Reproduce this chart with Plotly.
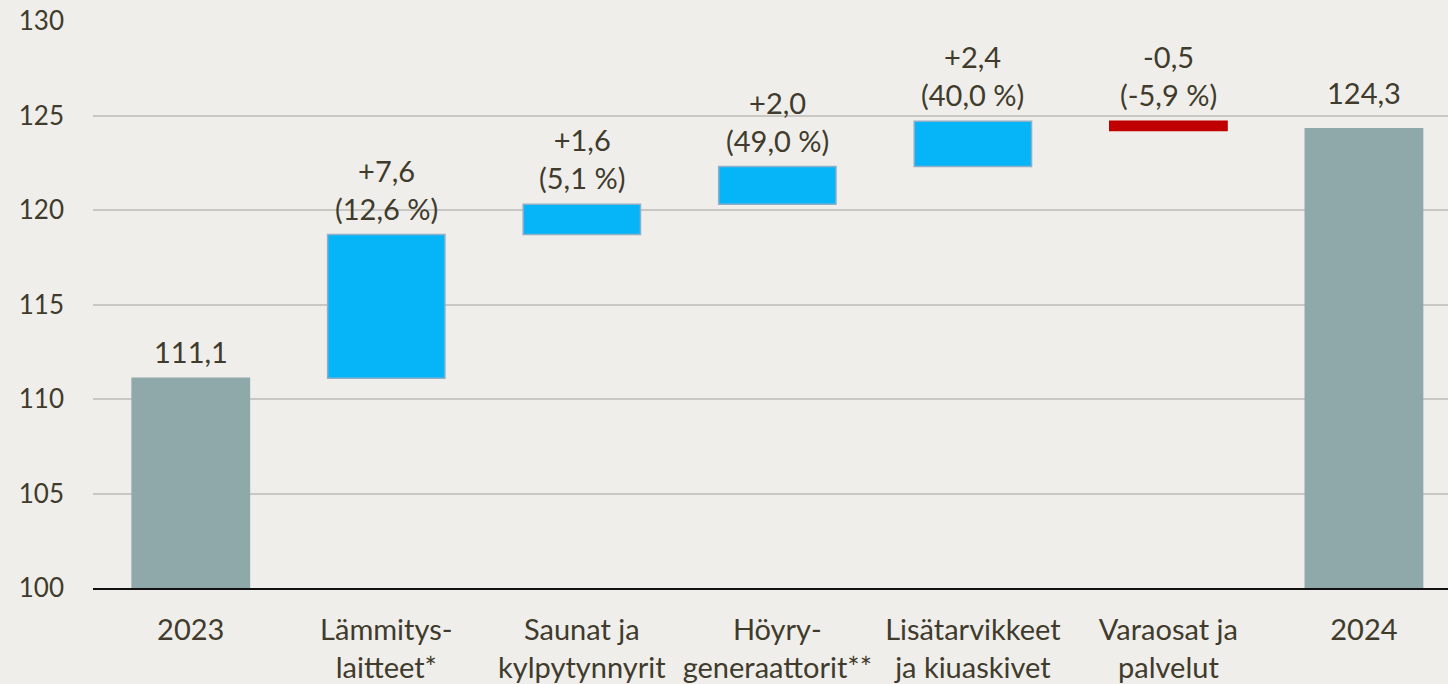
import plotly.graph_objects as go

categories = ["2023", "Lämmitys-<br>laitteet*", "Saunat ja<br>kylpytynnyrit", "Höyry-<br>generaattorit**",
              "Lisätarvikkeet<br>ja kiuaskivet", "Varaosat ja<br>palvelut", "2024"]
start_value = 111.1
deltas = [7.6, 1.6, 2.0, 2.4, -0.5]
pct_changes = ["12,6 %", "5,1 %", "49,0 %", "40,0 %", "-5,9 %"]
end_value = 124.3

BG = "#EFEEEA"
TXT = "#403B2C"
TOTAL_C = "#8FA9AA"
UP_C = "#06B4F8"
UP_EDGE = "#8FAFC9"
DOWN_C = "#C00000"
FONT = "Lato"
FS = 29
FS_Y = 26

def fmt(v, sign=False):
    s = f"{v:+.1f}" if sign else f"{v:.1f}"
    return s.replace(".", ",")

bases, heights, colors, edges, tops, labels = [], [], [], [], [], []
bases.append(0); heights.append(start_value); colors.append(TOTAL_C); edges.append(TOTAL_C)
tops.append(start_value); labels.append(fmt(start_value))
cum = start_value
for d, p in zip(deltas, pct_changes):
    bases.append(cum); heights.append(d)
    colors.append(UP_C if d >= 0 else DOWN_C)
    edges.append(UP_EDGE if d >= 0 else DOWN_C)
    tops.append(max(cum, cum + d))
    labels.append(f"{fmt(d, True)}<br>({p})")
    cum += d
bases.append(0); heights.append(end_value); colors.append(TOTAL_C); edges.append(TOTAL_C)
tops.append(end_value); labels.append(fmt(end_value))

xpos = list(range(len(categories)))
label_shifts = [7, 7, 7, 7, 7, 7, 17]

fig = go.Figure()
fig.add_trace(go.Bar(
    x=xpos, y=heights, base=bases,
    marker=dict(color=colors, line=dict(width=1.5, color=edges)),
    width=0.6, hoverinfo="skip",
))

for xi, t, lab, sh in zip(xpos, tops, labels, label_shifts):
    fig.add_annotation(x=xi, y=t, text=lab, showarrow=False, yanchor="bottom",
                       yshift=sh, font=dict(family=FONT, size=FS, color=TXT))

fig.update_layout(
    width=1448, height=684,
    paper_bgcolor=BG, plot_bgcolor=BG,
    margin=dict(l=93, r=0, t=21, b=94),
    showlegend=False,
    font=dict(family=FONT, size=FS, color=TXT),
)
fig.update_yaxes(range=[100, 130], dtick=5, showgrid=True, gridcolor="#C9C7C1", gridwidth=2,
                 zeroline=False, showline=False, ticks="", ticklabelstandoff=28,
                 tickfont=dict(family=FONT, size=FS_Y, color=TXT))
fig.update_xaxes(range=[-0.5, 6.43], tickvals=xpos, ticktext=categories,
                 showgrid=False, zeroline=False,
                 showline=True, linecolor="#111111", linewidth=2, ticks="",
                 ticklabelstandoff=15, tickfont=dict(family=FONT, size=FS, color=TXT))

fig.write_html("out.html", config={"displayModeBar": False},
               post_script="document.body.style.margin='0';document.body.style.overflow='hidden';")
